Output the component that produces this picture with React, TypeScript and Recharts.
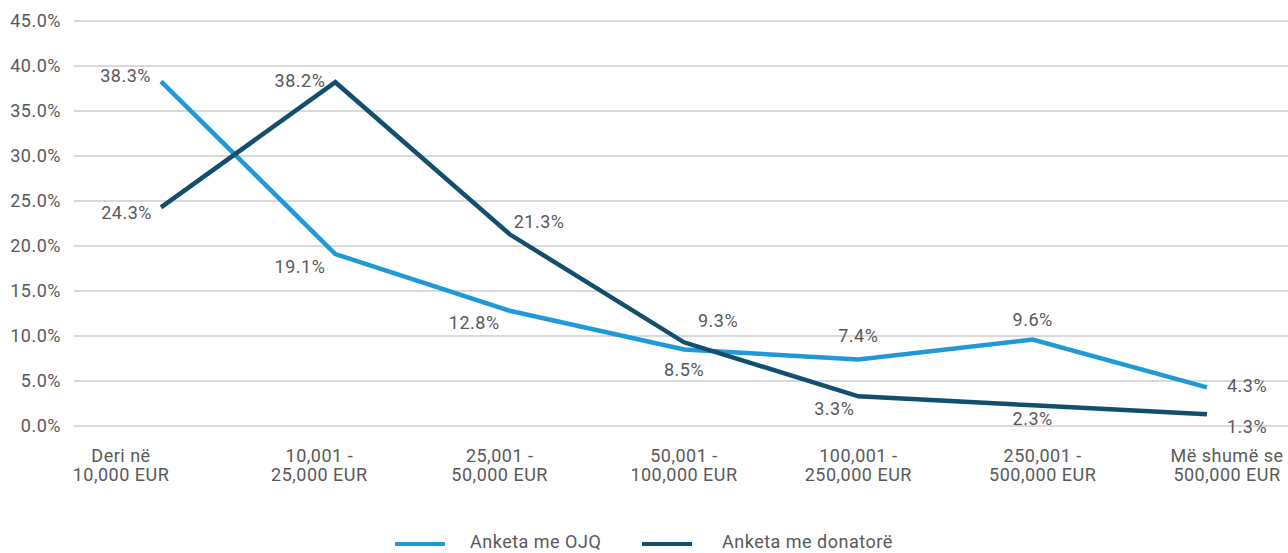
import React from 'react';
import { LineChart, Line, XAxis, YAxis, CartesianGrid, LabelList } from 'recharts';

// ── Données ──────────────────────────────────────────────
const CATEGORIES = [
  'Deri në\n10,000 EUR',
  '10,001 -\n25,000 EUR',
  '25,001 -\n50,000 EUR',
  '50,001 -\n100,000 EUR',
  '100,001 -\n250,000 EUR',
  '250,001 -\n500,000 EUR',
  'Më shumë se\n500,000 EUR',
];
const OJQ = [38.3, 19.1, 12.8, 8.5, 7.4, 9.6, 4.3];
const DONATORE = [24.3, 38.2, 21.3, 9.3, 3.3, 2.3, 1.3];
const Y_TICKS = [0, 5, 10, 15, 20, 25, 30, 35, 40, 45];

const SERIES_NAMES = ['Anketa me OJQ', 'Anketa me donatorë'];

const data = CATEGORIES.map((c, i) => ({ cat: c, ojq: OJQ[i], don: DONATORE[i] }));

// ── Style ────────────────────────────────────────────────
const LIGHT = '#1f9ad6';
const DARK = '#124e6e';
const TEXT = '#595959';
const FONT = 'Roboto, "Noto Sans", sans-serif';
const FS = 18;
const LS = 0.5;

// placement des étiquettes : [dx, dy, anchor]
const OJQ_LABEL_POS: [number, number, string][] = [
  [-10, -6, 'end'], [-10, 13, 'end'], [-10, 12, 'end'], [0, 20, 'middle'],
  [0, -24, 'middle'], [0, -20, 'middle'], [20, -2, 'start'],
];
const DON_LABEL_POS: [number, number, string][] = [
  [-9, 5, 'end'], [-10, -2, 'end'], [4, -13, 'start'], [14, -22, 'start'],
  [-4, 12, 'end'], [0, 13, 'middle'], [20, 12, 'start'],
];
const TICK_SHIFT = [-40, -16, -10, 0, 0, 10, 20];

const makeLabel = (pos: [number, number, string][]) => (props: any) => {
  const { x, y, value, index } = props;
  const [dx, dy, anchor] = pos[index];
  return (
    <text x={x + dx} y={y + dy} dy="0.35em" textAnchor={anchor as any}
      fill={TEXT} fontSize={FS} fontFamily={FONT} letterSpacing={LS}>
      {value.toFixed(1)}%
    </text>
  );
};

const XTick = (props: any) => {
  const { x, y, payload, index } = props;
  const lines = String(payload.value).split('\n');
  const cx = x + (TICK_SHIFT[index] ?? 0);
  return (
    <text x={cx} y={y} textAnchor="middle" fill={TEXT} fontSize={FS} fontFamily={FONT} letterSpacing={LS}>
      {lines.map((l, i) => (
        <tspan key={i} x={cx} y={y + 28 + i * 18.5}>{l}</tspan>
      ))}
    </text>
  );
};

export default function App() {
  return (
    <div style={{ position: 'absolute', left: 0, top: 0, width: 1288, height: 553, overflow: 'hidden', background: '#fff', fontFamily: FONT }}>
      <LineChart width={1294} height={553} data={data} margin={{ top: 21, right: 0, left: 0, bottom: 67 }}>
        <CartesianGrid vertical={false} stroke="#d9d9d9" strokeWidth={2} />
        <XAxis dataKey="cat" axisLine={false} tickLine={false} height={60} interval={0}
          padding={{ left: 87, right: 87 }} tick={<XTick />} />
        <YAxis width={74} domain={[0, 45]} ticks={Y_TICKS} axisLine={false} tickLine={false}
          tickSize={0} tickMargin={13} tickFormatter={(v: number) => v.toFixed(1) + '%'}
          tick={{ fill: TEXT, fontSize: FS, fontFamily: FONT, letterSpacing: LS }} />
        <Line dataKey="ojq" stroke={LIGHT} strokeWidth={4.5} dot={false} isAnimationActive={false} strokeLinejoin="miter">
          <LabelList dataKey="ojq" content={makeLabel(OJQ_LABEL_POS)} />
        </Line>
        <Line dataKey="don" stroke={DARK} strokeWidth={4.5} dot={false} isAnimationActive={false} strokeLinejoin="miter">
          <LabelList dataKey="don" content={makeLabel(DON_LABEL_POS)} />
        </Line>
      </LineChart>
      {/* Légende */}
      <div style={{ position: 'absolute', top: 531, left: 395, height: 22, lineHeight: '22px', display: 'flex', alignItems: 'center', fontSize: FS, letterSpacing: LS, color: TEXT }}>
        <span style={{ width: 50, height: 4, background: LIGHT, display: 'inline-block', marginTop: 4 }} />
        <span style={{ marginLeft: 25, width: 172 }}>{SERIES_NAMES[0]}</span>
        <span style={{ width: 50, height: 4, background: DARK, display: 'inline-block', marginTop: 4 }} />
        <span style={{ marginLeft: 30 }}>{SERIES_NAMES[1]}</span>
      </div>
    </div>
  );
}
